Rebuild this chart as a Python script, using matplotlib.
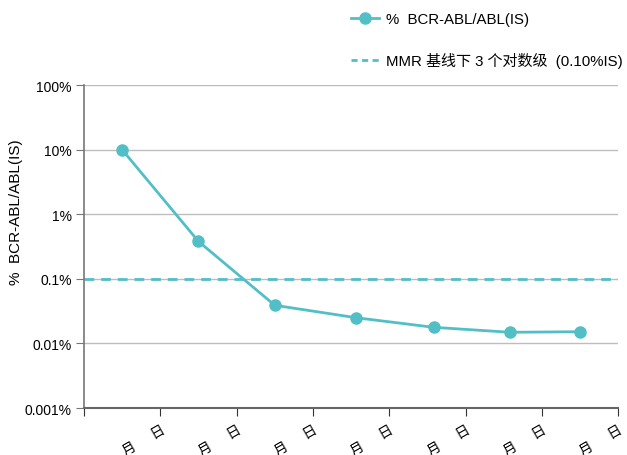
import matplotlib.pyplot as plt

plt.rcParams['font.family'] = ['Liberation Sans', 'Noto Sans CJK SC', 'DejaVu Sans']

# sampling points (position along the time axis) and BCR-ABL/ABL(IS) in percent
visit_pos = [0.5, 1.5, 2.5, 3.57, 4.58, 5.58, 6.5]
bcr_abl_pct = [10.0, 0.38, 0.039, 0.025, 0.0178, 0.0149, 0.0152]
mmr_level = 0.1

tick_pos = [0, 1, 2, 3, 4, 5, 6, 7]
tick_text = [''] + ['月     日'] * 7
ytick_vals = [100, 10, 1, 0.1, 0.01, 0.001]
ytick_text = ['100%', '10%', '1%', '0.1%', '0.01%', '0.001%']

teal = '#52bfc7'

fig = plt.figure(figsize=(6.27, 4.56), dpi=100)
ax = fig.add_axes([0.134, 0.103, 0.852, 0.708])

ax.plot(visit_pos, bcr_abl_pct, color=teal, lw=2, marker='o', ms=8,
        label='%  BCR-ABL/ABL(IS)', zorder=3)
ax.axhline(mmr_level, color=teal, lw=2, ls=(0, (3.5, 2.5)),
           label='MMR 基线下 3 个对数级  (0.10%IS)', zorder=2)

ax.set_yscale('log')
ax.set_ylim(0.001, 100)
ax.set_xlim(0, 7)
ax.set_yticks(ytick_vals)
ax.set_yticklabels(ytick_text)
ax.yaxis.set_minor_locator(plt.NullLocator())
ax.set_xticks(tick_pos)
ax.set_xticklabels(tick_text, rotation=30, ha='right', va='top',
                   rotation_mode='anchor')

ax.grid(axis='y', color='#bdbdbd', lw=1)
ax.set_axisbelow(True)
for s in ['top', 'right']:
    ax.spines[s].set_visible(False)
ax.spines['left'].set_color('#777777')
ax.spines['bottom'].set_color('#666666')
ax.spines['left'].set_linewidth(1.2)
ax.spines['bottom'].set_linewidth(1.5)
ax.tick_params(axis='y', length=6, color='#777777', labelsize=10, pad=3)
ax.tick_params(axis='x', length=6, color='#333333', labelsize=10, pad=4)

ax.set_ylabel('%  BCR-ABL/ABL(IS)', fontsize=11)
ax.yaxis.set_label_coords(-0.115, 0.61)

lgd = ax.legend(loc='lower left', bbox_to_anchor=(0.474, 1.012), frameon=False,
                fontsize=10.8, handlelength=1.9, labelspacing=1.7,
                handletextpad=0.45)
for h in lgd.get_lines()[1:]:
    h.set_linestyle((0, (2.2, 1.6)))

plt.savefig('out.png', dpi=100)
